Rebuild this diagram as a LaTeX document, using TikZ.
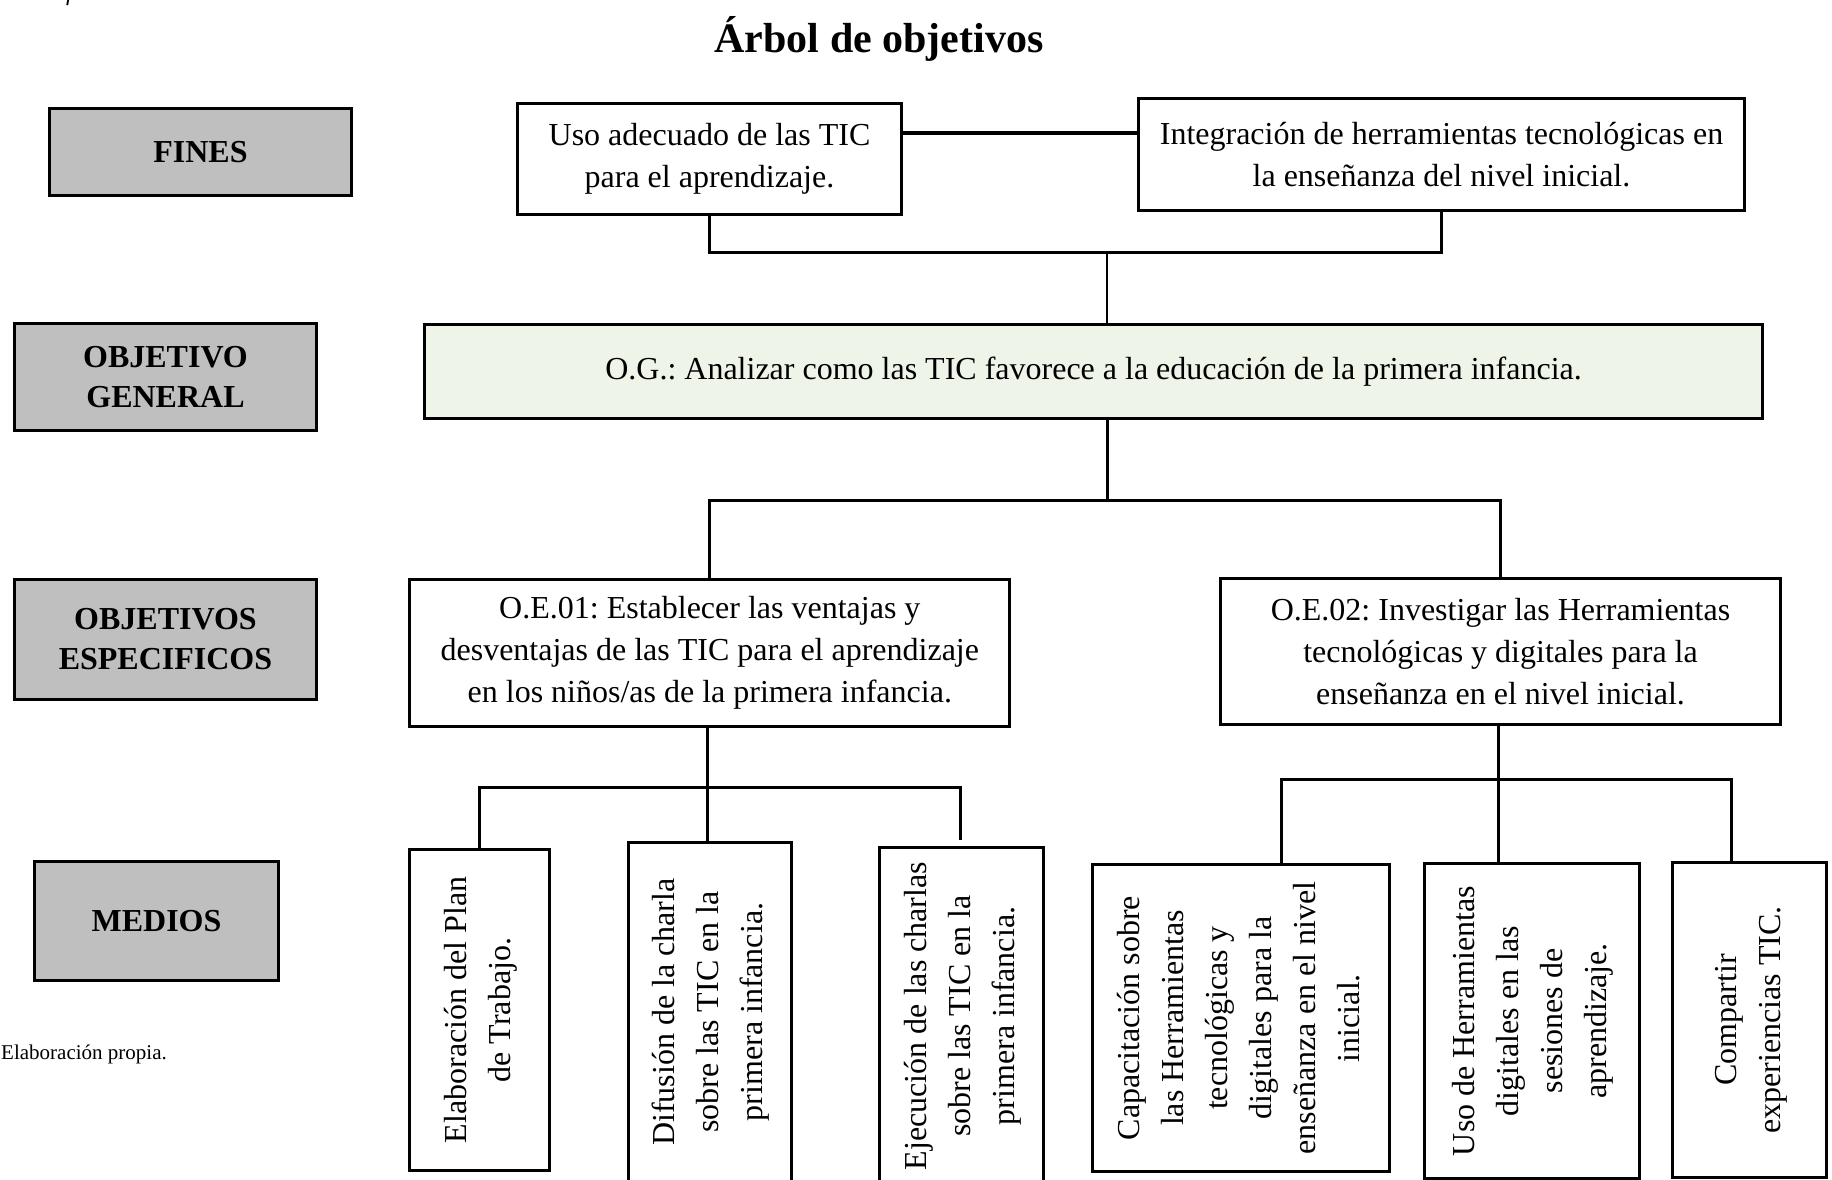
\documentclass[tikz,border=0pt]{standalone}
\usepackage{fontspec}
\setmainfont{Liberation Serif}
\usepackage{graphicx}
\definecolor{labgray}{HTML}{BFBFBF}
\definecolor{oggreen}{HTML}{EEF4E8}
\newcommand\myvtext[1]{\rotatebox{90}{\fontsize{32}{44}\selectfont\begin{tabular}{@{}c@{}}#1\end{tabular}}}
\frenchspacing
\begin{document}
\begin{tikzpicture}[x=1pt,y=-1pt,
  box/.style={draw, line width=3pt, rectangle, inner sep=0pt, align=center, font=\fontsize{32}{42}\selectfont},
  lab/.style={draw, line width=3.5pt, fill=labgray, rectangle, inner sep=0pt, align=center, font=\fontsize{32}{40}\selectfont\bfseries},
  vbox/.style={draw, line width=3pt, rectangle, inner sep=0pt},
  conn/.style={line width=3pt, line join=miter},
]
\useasboundingbox (0,0) rectangle (1832,1179);

% cut-off text at the top edge and source note
\node[anchor=base west, inner sep=0pt, font=\fontsize{24}{24}\selectfont\itshape] (topf) at (66,0) {f};
\node[anchor=base west, inner sep=0pt, font=\fontsize{21}{24}\selectfont] (src) at (1,1059) {Elaboración propia.};

% title
\node[anchor=base, inner sep=0pt, font=\fontsize{42}{50}\selectfont\bfseries] (title) at (879,52) {Árbol de objetivos};

% left labels
\node[lab, minimum width=302pt, minimum height=87pt] (lfines) at (200.5,152) {FINES};
\node[lab, minimum width=302pt, minimum height=107pt] (log) at (165.5,377) {OBJETIVO\\GENERAL};
\node[lab, minimum width=302pt, minimum height=120pt] (loe) at (165.5,639.5) {OBJETIVOS\\ESPECIFICOS};
\node[lab, minimum width=244pt, minimum height=119pt] (lmed) at (156.5,921) {MEDIOS};

% fines
\node[box, minimum width=384pt, minimum height=111pt] (uso) at (709.5,159) {Uso adecuado de las TIC\\para el aprendizaje.};
\node[box, minimum width=606pt, minimum height=112pt] (integ) at (1441.5,154.5) {Integración de herramientas tecnológicas en\\la enseñanza del nivel inicial.};

% objetivo general
\node[box, fill=oggreen, minimum width=1338pt, minimum height=94pt] (og) at (1093.5,371.5) {O.G.: Analizar como las TIC favorece a la educación de la primera infancia.};

% objetivos especificos
\node[box, minimum width=600pt, minimum height=147pt] (oe1) at (709.8,653) {O.E.01: Establecer las ventajas y\\desventajas de las TIC para el aprendizaje\\en los niños/as de la primera infancia.};
\node[box, minimum width=560pt, minimum height=146pt] (oe2) at (1500.5,651.5) {O.E.02: Investigar las Herramientas\\tecnológicas y digitales para la\\enseñanza en el nivel inicial.};

% medios
\node[vbox, minimum width=140pt, minimum height=321pt] (elab) at (479.5,1010) {\myvtext{Elaboración del Plan\\de Trabajo.}};
\node[vbox, minimum width=163pt, minimum height=339pt] (difu) at (710,1012) {\myvtext{Difusión de la charla\\sobre las TIC en la\\primera infancia.}};
\node[vbox, minimum width=164pt, minimum height=337pt] (ejec) at (961.5,1016) {\myvtext{Ejecución de las charlas\\sobre las TIC en la\\primera infancia.}};
\node[vbox, minimum width=297pt, minimum height=307pt] (capa) at (1241,1018) {\myvtext{Capacitación sobre\\las Herramientas\\tecnológicas y\\digitales para la\\enseñanza en el nivel\\inicial.}};
\node[vbox, minimum width=215pt, minimum height=315pt] (usoh) at (1532,1021) {\myvtext{Uso de Herramientas\\digitales en las\\sesiones de\\aprendizaje.}};
\node[vbox, minimum width=154pt, minimum height=315pt] (comp) at (1749.5,1020) {\myvtext{Compartir\\experiencias TIC.}};

% connectors: fines
\coordinate (lk) at (1000,133);
\draw[line width=3.5pt] (uso.east |- lk) -- (integ.west |- lk);
\coordinate (jb) at (1107,252);
\draw[conn] (uso.south) |- (jb) -| (integ.south);
\draw[line width=2pt] (jb) -- (og.north -| jb);

% og to oe
\coordinate (jm) at (1107,500);
\draw[conn] (og.south -| jm) -- (jm);
\draw[conn] (oe1.north) |- (jm) -| (oe2.north);

% oe1 to medios
\coordinate (ja) at (707,787);
\coordinate (ejt) at (960,840);
\draw[conn] (oe1.south -| ja) -- (difu.north -| ja);
\draw[conn] (elab.north) |- (ja) -| (ejt);

% oe2 to medios
\coordinate (jc) at (1498,779);
\coordinate (cl) at (1281,779);
\coordinate (cr) at (1731,864);
\draw[conn] (oe2.south -| jc) -- (usoh.north -| jc);
\draw[conn] (capa.north -| cl) -- (cl) -- (jc) -| (cr);
\end{tikzpicture}
\end{document}
